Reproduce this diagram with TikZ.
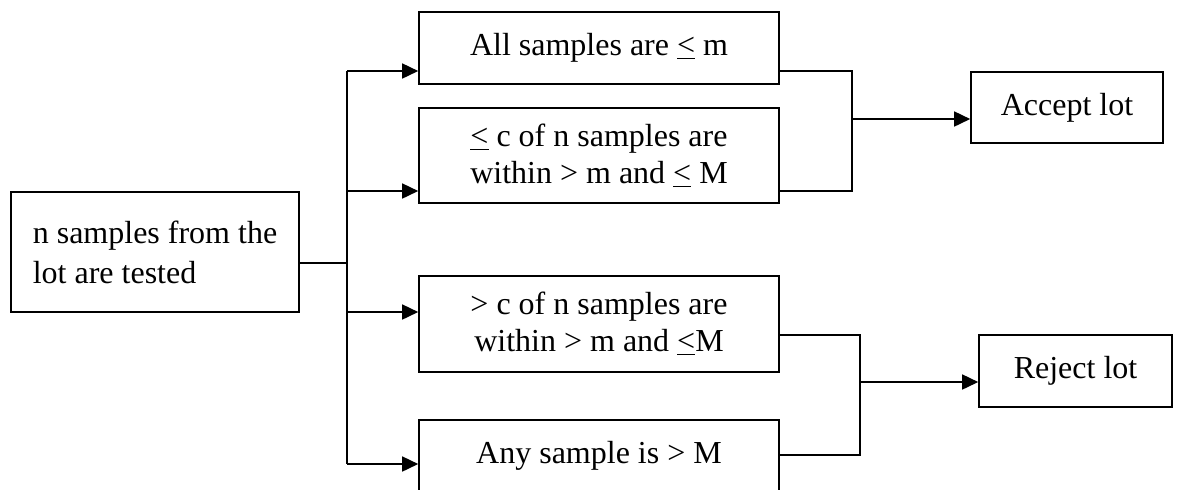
\documentclass[tikz,border=0pt]{standalone}
\usepackage{fontspec}
\setmainfont{Liberation Serif}
\usetikzlibrary{arrows.meta}
\tikzstyle{bx}=[rectangle,draw=black,line width=.8pt,inner sep=0pt,align=center,font=\fontsize{16}{18.5}\selectfont]
\tikzstyle{ln}=[line width=1.4pt]
\tikzstyle{ar}=[line width=.8pt,-{Triangle[length=8pt,width=7.5pt]}]

\begin{document}
\begin{tikzpicture}[x=.5pt,y=-.5pt]
	\useasboundingbox (0,0) rectangle (1177,489);
	\clip (0,0) rectangle (1177,489);
	\node[bx,minimum width=144pt,minimum height=60pt,align=left,font=\fontsize{16}{20}\selectfont] (src) at (155,252) {n samples from the\\lot are tested};
	\node[bx,minimum width=180pt,minimum height=36pt] (b1) at (599,48) {All samples are \underline{<} m};
	\node[bx,minimum width=180pt,minimum height=47.5pt] (b2) at (599,155.5) {\underline{<} c of n samples are\\within > m and \underline{<} M};
	\node[bx,minimum width=180pt,minimum height=48pt] (b3) at (599,324) {> c of n samples are\\within > m and \underline{<}M};
	\node[bx,minimum width=180pt,minimum height=36pt] (b4) at (599,456) {Any sample is > M};
	\node[bx,minimum width=96pt,minimum height=35.5pt] (acc) at (1067,107.5) {Accept lot};
	\node[bx,minimum width=96.5pt,minimum height=36pt] (rej) at (1075.5,371) {Reject lot};
	\coordinate (s) at (347,263);
	\coordinate (t1) at (347,71);
	\coordinate (t2) at (347,191);
	\coordinate (t3) at (347,312);
	\coordinate (t4) at (347,464);
	\coordinate (u1) at (852,71);
	\coordinate (u2) at (852,191);
	\coordinate (ua) at (852,119);
	\coordinate (u3) at (860,335);
	\coordinate (u4) at (860,455);
	\coordinate (ur) at (860,382);
	\draw[ln] (src.east |- s) -- (s);
	\draw[ln] (t1) -- (t4);
	\foreach \i in {1,...,4}
		\draw[ar] (t\i) -- (t\i -| b\i.west);
	\draw[ln] (u1 -| b1.east) -- (u1) -- (u2) -- (u2 -| b2.east);
	\draw[ln] (u3 -| b3.east) -- (u3) -- (u4) -- (u4 -| b4.east);
	\draw[ar] (ua) -- (ua -| acc.west);
	\draw[ar] (ur) -- (ur -| rej.west);
\end{tikzpicture}
\end{document}
